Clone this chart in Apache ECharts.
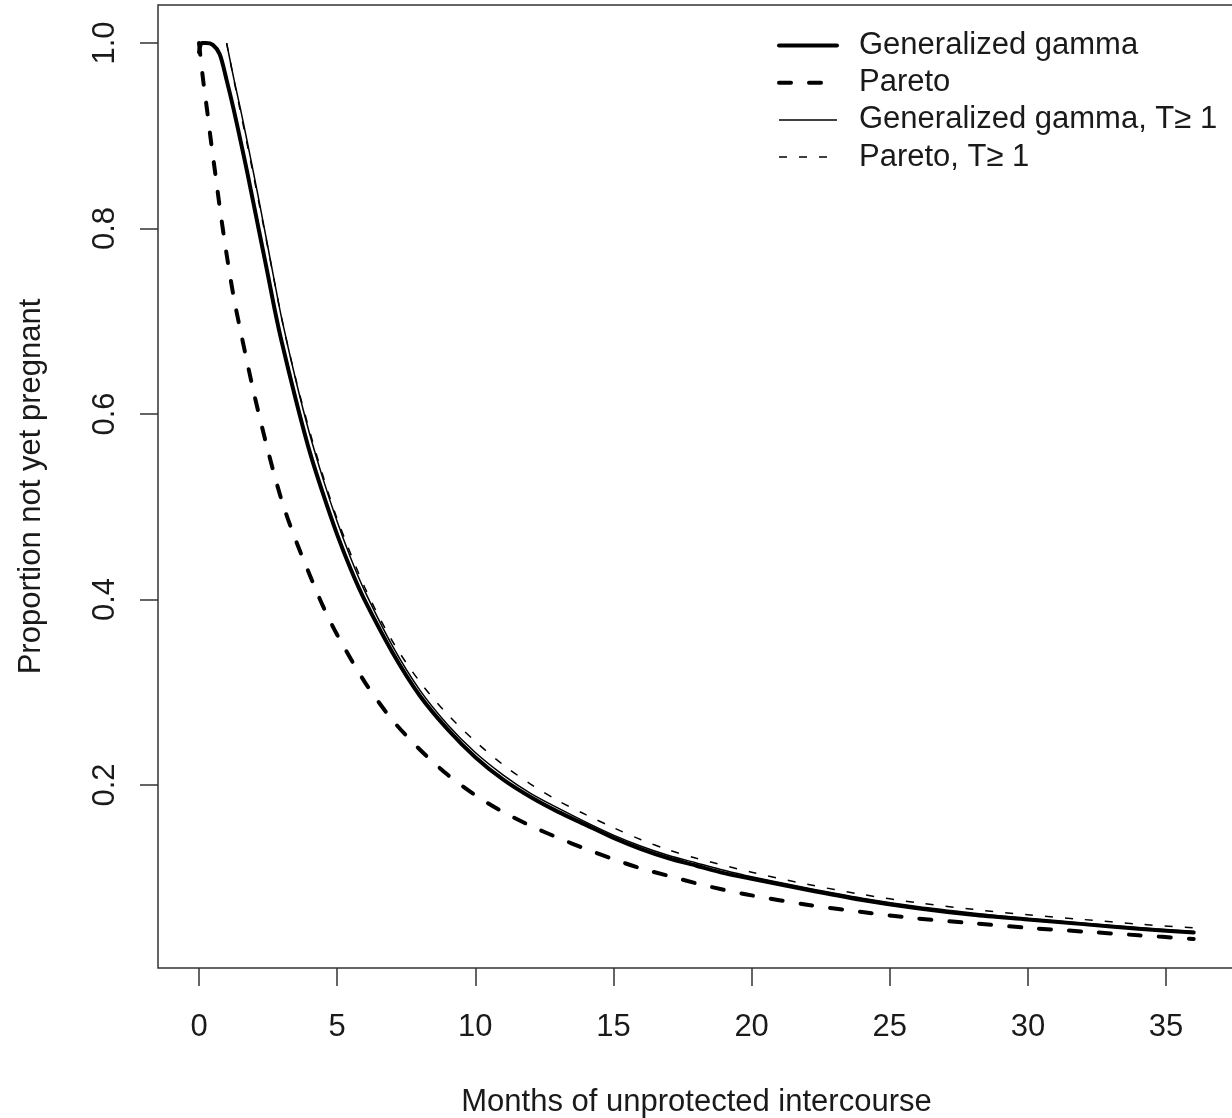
<!DOCTYPE html>
<html lang="en">
<head>
    <meta charset="UTF-8">
    <title>Proportion not yet pregnant</title>
    <script src="https://cdn.jsdelivr.net/npm/echarts@6.0.0/dist/echarts.min.js"></script>
    <style>
        html, body {margin: 0; padding: 0; background: #fff;}
    </style>
</head>
<body>
<div id="survivalChart" style="width: 1232px;height: 1118px;background-color: white;"></div>
</body>
<script type="text/javascript">
    // values
    var xTicks = [0, 5, 10, 15, 20, 25, 30, 35];
    var yTicks = [0.2, 0.4, 0.6, 0.8, 1.0];

    // Generalized gamma
    var ggX = [0, 0.1, 0.25, 0.5, 0.75, 1, 1.25, 1.5, 1.75, 2, 2.25, 2.5, 2.75, 3, 3.5, 4, 4.5, 5, 5.5, 6, 7, 8, 9, 10, 11, 12, 13, 14, 15, 16, 17, 18, 19, 20, 22, 24, 26, 28, 30, 32, 34, 36];
    var ggY = [0.99, 1.0, 1.0, 0.998, 0.988, 0.960, 0.929, 0.895, 0.860, 0.823, 0.786, 0.749, 0.711, 0.677, 0.616, 0.560, 0.513, 0.470, 0.432, 0.399, 0.343, 0.296, 0.260, 0.230, 0.206, 0.187, 0.171, 0.157, 0.143, 0.131, 0.121, 0.113, 0.105, 0.099, 0.087, 0.076, 0.067, 0.060, 0.055, 0.050, 0.045, 0.041];

    // Pareto
    var parX = [0, 0.15, 0.3, 0.45, 0.6, 0.75, 1, 1.25, 1.5, 2, 2.5, 3, 3.5, 4, 4.5, 5, 6, 7, 8, 9, 10, 11, 12, 13, 14, 15, 16, 17, 18, 19, 20, 22, 24, 26, 28, 30, 32, 34, 36];
    var parY = [1.0, 0.960, 0.926, 0.890, 0.857, 0.823, 0.772, 0.727, 0.690, 0.621, 0.560, 0.506, 0.464, 0.427, 0.392, 0.362, 0.311, 0.270, 0.238, 0.211, 0.189, 0.171, 0.156, 0.143, 0.131, 0.120, 0.110, 0.102, 0.094, 0.087, 0.081, 0.071, 0.063, 0.056, 0.051, 0.046, 0.042, 0.038, 0.034];

    // Generalized gamma, T >= 1
    var gg1X = [1, 1.25, 1.5, 1.75, 2, 2.25, 2.5, 2.75, 3, 3.5, 4, 4.5, 5, 5.5, 6, 7, 8, 9, 10, 11, 12, 13, 14, 15, 16, 17, 18, 19, 20, 22, 24, 26, 28, 30, 32, 34, 36];
    var gg1Y = [1.0, 0.963, 0.929, 0.893, 0.856, 0.818, 0.779, 0.740, 0.702, 0.637, 0.579, 0.529, 0.484, 0.444, 0.409, 0.350, 0.302, 0.265, 0.235, 0.211, 0.191, 0.175, 0.160, 0.146, 0.134, 0.124, 0.116, 0.108, 0.101, 0.089, 0.078, 0.069, 0.062, 0.056, 0.051, 0.046, 0.042];

    // Pareto, T >= 1
    var par1X = [1, 1.25, 1.5, 1.75, 2, 2.5, 3, 3.5, 4, 4.5, 5, 6, 7, 8, 9, 10, 11, 12, 13, 14, 15, 16, 17, 18, 20, 22, 24, 26, 28, 30, 32, 34, 36];
    var par1Y = [1.0, 0.962, 0.926, 0.890, 0.853, 0.778, 0.702, 0.638, 0.582, 0.532, 0.487, 0.413, 0.355, 0.311, 0.276, 0.247, 0.222, 0.201, 0.183, 0.168, 0.154, 0.141, 0.130, 0.121, 0.106, 0.093, 0.082, 0.073, 0.066, 0.060, 0.055, 0.050, 0.046];

    var legendNames = ['Generalized gamma', 'Pareto', 'Generalized gamma, T\u2265 1', 'Pareto, T\u2265 1'];

    function pairs(xs, ys) {
        var out = [];
        for (var i = 0; i < xs.length; i++) {
            out.push([xs[i], ys[i]]);
        }
        return out;
    }

    var fontName = '"Liberation Sans", Arial, sans-serif';
    var textCol = '#1a1a1a';

    // line looks, same order as legendNames
    var looks = [
        {color: '#000', width: 4, type: 'solid', cap: 'round', join: 'round'},
        {color: '#000', width: 4, type: [12, 18], cap: 'round', join: 'round'},
        {color: '#000', width: 1.5, type: 'solid'},
        {color: '#000', width: 1.5, type: [8, 12]}
    ];
    var seriesX = [ggX, parX, gg1X, par1X];
    var seriesY = [ggY, parY, gg1Y, par1Y];

    var legendData = [];
    var seriesList = [];
    for (var k = 0; k < legendNames.length; k++) {
        legendData.push({
            name: legendNames[k],
            itemStyle: {opacity: 0},
            lineStyle: looks[k]
        });
        seriesList.push({
            name: legendNames[k],
            type: 'line',
            data: pairs(seriesX[k], seriesY[k]),
            symbol: 'none',
            smooth: 0.3,
            itemStyle: {color: '#000'},
            lineStyle: looks[k]
        });
    }

    var chart = echarts.init(document.getElementById('survivalChart'));
    var option = {
        animation: false,
        backgroundColor: '#fff',
        textStyle: {fontFamily: fontName},
        grid: {
            left: 158,
            top: 5,
            right: -3,
            bottom: 150,
            outerBoundsMode: 'none',
            show: true,
            borderColor: '#333',
            borderWidth: 1.5,
            backgroundColor: 'transparent'
        },
        legend: {
            data: legendData,
            orient: 'vertical',
            left: 772,
            top: 25,
            itemWidth: 58,
            itemHeight: 14,
            itemGap: 6.2,
            textStyle: {
                fontFamily: fontName,
                fontSize: 31,
                lineHeight: 30,
                color: textCol,
                padding: [0, 0, 0, 17]
            }
        },
        xAxis: {
            type: 'value',
            min: -1.484,
            max: 37.494,
            name: 'Months of unprotected intercourse',
            nameLocation: 'middle',
            nameGap: 119,
            nameTextStyle: {fontFamily: fontName, fontSize: 31, color: textCol},
            splitLine: {show: false},
            axisLine: {show: false, onZero: false},
            axisTick: {
                show: true,
                customValues: xTicks,
                length: 18,
                lineStyle: {color: '#333', width: 1.5}
            },
            axisLabel: {
                customValues: xTicks,
                margin: 44,
                fontFamily: fontName,
                fontSize: 31,
                color: textCol
            }
        },
        yAxis: {
            type: 'value',
            min: 0.0027,
            max: 1.041,
            name: 'Proportion not yet pregnant',
            nameLocation: 'middle',
            nameGap: 111,
            nameTextStyle: {fontFamily: fontName, fontSize: 31, color: textCol},
            splitLine: {show: false},
            axisLine: {show: false, onZero: false},
            axisTick: {
                show: true,
                customValues: yTicks,
                length: 18,
                lineStyle: {color: '#333', width: 1.5}
            },
            axisLabel: {
                customValues: yTicks,
                rotate: 90,
                margin: 37,
                fontFamily: fontName,
                fontSize: 31,
                color: textCol,
                formatter: function (v) { return v.toFixed(1); }
            }
        },
        series: seriesList
    };
    chart.setOption(option);
</script>
</html>
